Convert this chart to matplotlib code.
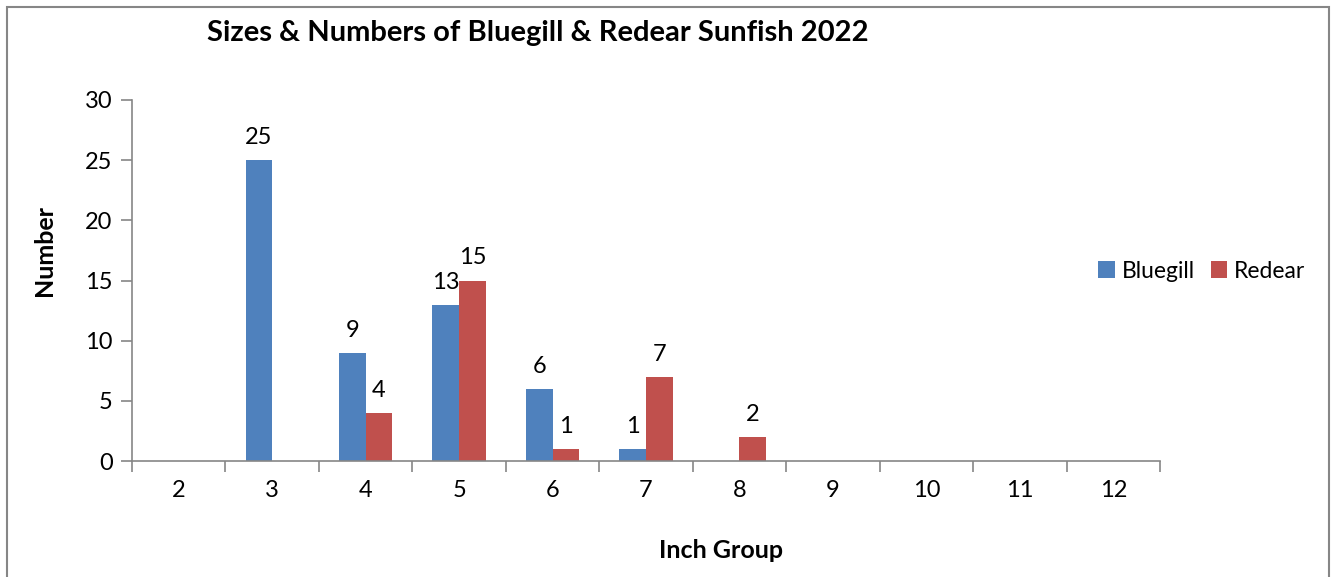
import matplotlib.pyplot as plt
import numpy as np
from matplotlib.patches import Rectangle

plt.rcParams['font.family'] = ['Lato', 'DejaVu Sans']

inch_groups = ['2', '3', '4', '5', '6', '7', '8', '9', '10', '11', '12']
bluegill = [0, 25, 9, 13, 6, 1, 0, 0, 0, 0, 0]
redear = [0, 0, 4, 15, 1, 7, 2, 0, 0, 0, 0]

blue = '#4F81BD'
red = '#C0504D'
grey = '#868686'

fig = plt.figure(figsize=(13.43, 5.77), dpi=100)
ax = fig.add_axes([132 / 1343, 1 - 461 / 577, (1160 - 132) / 1343, (461 - 100) / 577])

x = np.arange(len(inch_groups))
w = 0.285
b1 = ax.bar(x - w / 2, bluegill, w, color=blue, label='Bluegill')
b2 = ax.bar(x + w / 2, redear, w, color=red, label='Redear')

for bars, vals in ((b1, bluegill), (b2, redear)):
    for bar, v in zip(bars, vals):
        if v > 0:
            ax.text(bar.get_x() + bar.get_width() / 2, v + 1.0, str(v),
                    ha='center', va='bottom', fontsize=17)

ax.set_xlim(-0.5, len(inch_groups) - 0.5)
ax.set_ylim(0, 30)
ax.set_yticks(range(0, 31, 5))
ax.set_xticks(x)
ax.set_xticklabels(inch_groups)
ax.set_xticks(np.arange(-0.5, len(inch_groups)), minor=True)
ax.tick_params(axis='x', which='major', length=0, pad=14, labelsize=17)
ax.tick_params(axis='x', which='minor', length=8, color=grey, width=1.2)
ax.tick_params(axis='y', length=8, color=grey, width=1.2, pad=6, labelsize=17)

for s in ('top', 'right'):
    ax.spines[s].set_visible(False)
for s in ('left', 'bottom'):
    ax.spines[s].set_color(grey)
    ax.spines[s].set_linewidth(1.2)

ax.set_ylabel('Number', fontsize=18, fontweight='bold')
ax.set_xlabel('Inch Group', fontsize=18, fontweight='bold')
ax.yaxis.set_label_coords((45 - 132) / (1160 - 132), (461 - 251) / (461 - 100))
ax.xaxis.set_label_coords((721 - 132) / (1160 - 132), -(550 - 461) / (461 - 100))
ax.xaxis.label.set_va('center')
ax.yaxis.label.set_va('center')

fig.text(538 / 1343, 1 - 33 / 577, 'Sizes & Numbers of Bluegill & Redear Sunfish 2022',
         ha='center', va='center', fontsize=21, fontweight='bold')

fig.legend(loc='center left', bbox_to_anchor=(1087 / 1343, 1 - 271 / 577), ncol=2,
           frameon=False, fontsize=16.5, handlelength=0.7, handleheight=0.7,
           handletextpad=0.3, columnspacing=0.7, borderpad=0)

fig.patches.append(Rectangle((7 / 1343, -0.1), (1329 - 7) / 1343, 1.1 - 7 / 577,
                             transform=fig.transFigure, fill=False,
                             edgecolor=grey, linewidth=1.5))

plt.savefig('out.png', dpi=100)
